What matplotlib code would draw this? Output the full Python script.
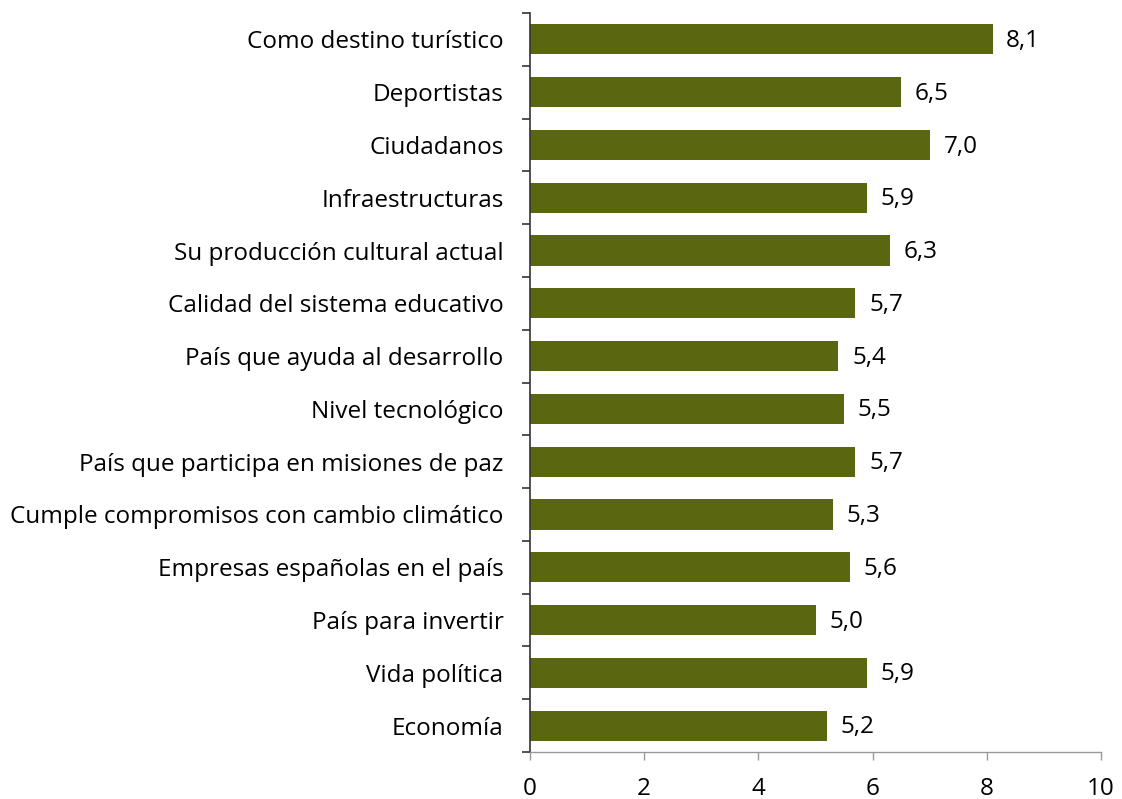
import numpy as np
import matplotlib.pyplot as plt

plt.rcParams['font.family'] = ['Open Sans', 'DejaVu Sans']

# ratings, listed top to bottom
categories = ["Como destino turístico", "Deportistas", "Ciudadanos",
              "Infraestructuras", "Su producción cultural actual",
              "Calidad del sistema educativo", "País que ayuda al desarrollo",
              "Nivel tecnológico", "País que participa en misiones de paz",
              "Cumple compromisos con cambio climático",
              "Empresas españolas en el país", "País para invertir",
              "Vida política", "Economía"]
values = [8.1, 6.5, 7.0, 5.9, 6.3, 5.7, 5.4, 5.5, 5.7, 5.3, 5.6, 5.0, 5.9, 5.2]
xticks = [0, 2, 4, 6, 8, 10]

bar_color = "#5a6610"
fs = 17.5

fig = plt.figure(figsize=(11.22, 7.99), dpi=100)
ax = fig.add_axes([530/1122, 47/799, 571/1122, 739/799])

n = len(categories)
ypos = np.arange(n)[::-1]
ax.barh(ypos, values, height=0.57, color=bar_color)

for y, v in zip(ypos, values):
    ax.text(v + 0.24, y - 0.03, ("%.1f" % v).replace(".", ","), va="center",
            ha="left", fontsize=fs, color="black")

ax.set_xlim(0, 10)
ax.set_ylim(-0.5, n - 0.5)
ax.set_xticks(xticks)
ax.set_xticklabels([str(t) for t in xticks], fontsize=fs)
ax.set_yticks(ypos)
ax.set_yticklabels(categories, fontsize=fs)
ax.set_yticks(np.arange(n + 1) - 0.5, minor=True)

ax.tick_params(axis="y", which="major", length=0, pad=19)
ax.tick_params(axis="y", which="minor", length=6, width=1.2, color="#333333")
ax.tick_params(axis="x", length=6, width=1, color="#999999", pad=12)

for side in ("top", "right"):
    ax.spines[side].set_visible(False)
ax.spines["left"].set_color("#333333")
ax.spines["left"].set_linewidth(1.2)
ax.spines["bottom"].set_color("#999999")
ax.spines["bottom"].set_linewidth(1)

fig.savefig("out.png", dpi=100)
